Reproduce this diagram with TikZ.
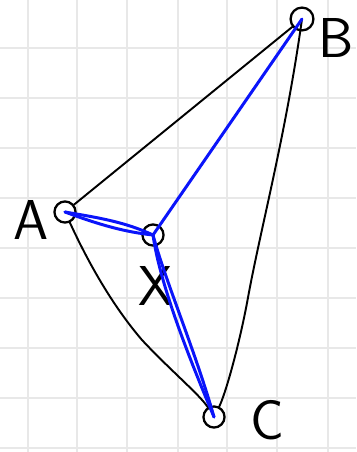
\documentclass[tikz,border=0pt]{standalone}
\usepackage{xcolor}
\usetikzlibrary{calc,positioning}
\colorlet{gridgray}{black!9}
\definecolor{pen}{RGB}{10,20,250}
\tikzset{
  vertex/.style={draw,circle,line width=1.3pt,minimum size=12pt,inner sep=0pt},
  letter/.style={font=\sffamily\fontsize{32}{32}\selectfont},
  side/.style={line width=1.1pt,line cap=round},
  route/.style={pen,line width=1.7pt,line cap=round}
}
\begin{document}
\begin{tikzpicture}[x=0.02cm,y=-0.02cm]
\useasboundingbox (0,0) rectangle (356,452);
% squared paper
\foreach \gx in {28,77,127,178,227,277,328}
  \draw[gridgray,line width=1.1pt] (\gx,0) -- (\gx,452);
\foreach \gy in {48,98,148,198,248,298,348,398,448}
  \draw[gridgray,line width=1.1pt] (0,\gy) -- (356,\gy);
% points
\node[vertex] (A) at (65,212) {};
\node[vertex,minimum size=13pt] (B) at (302,19) {};
\node[vertex] (C) at (214,417) {};
\node[vertex] (X) at (153,235) {};
\node[letter] (lA) at (31,220) {A};
\node[letter] (lB) at (336,38) {B};
\node[letter] (lC) at (267,420) {C};
\node[letter] (lX) at (156,286) {X};
% triangle
\draw[side] (A) -- (B);
\draw[side] (B.center) .. controls (285,140) and (260,230) .. (247,303)
  .. controls (238,350) and (225,395) .. (C);
\draw[side] (A) .. controls (88,262) and (112,305) .. (142,340)
  .. controls (170,370) and (200,395) .. (C);
% shortest network through X
\draw[route] (A.center) .. controls (100,218) and (125,222) .. (X.center);
\draw[route] (A.center) .. controls (100,225) and (125,232) .. (X.center);
\draw[route] (X.center) -- (B.center);
\draw[route] (X.center) .. controls (165,280) and (195,350) .. (C.center);
\draw[route] (X.center) .. controls (160,285) and (190,360) .. (C.center);
\end{tikzpicture}
\end{document}
